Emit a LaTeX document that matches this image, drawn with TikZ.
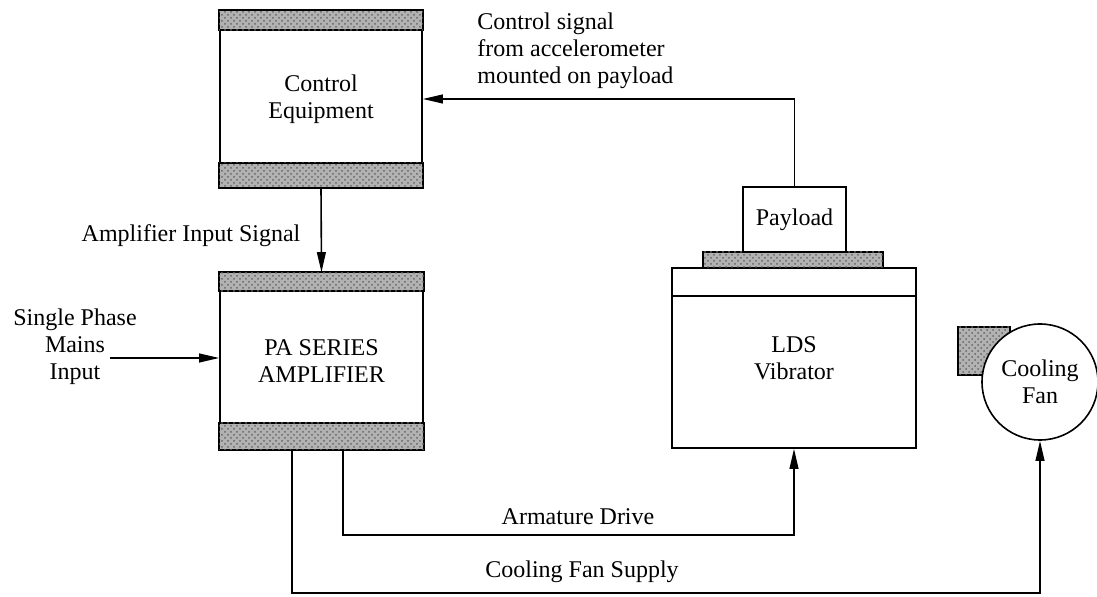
\documentclass[tikz,border=0pt]{standalone}
\usepackage{fontspec}
\setmainfont{Liberation Serif}
\usetikzlibrary{arrows.meta,patterns}

\begin{document}
\begin{tikzpicture}[x=0.5pt,y=-0.5pt,line width=0.8pt,
  font=\fontsize{12}{13.5}\selectfont,
  unit/.style={draw,align=center,inner sep=0pt},
  band/.style={draw,fill=black!30,postaction={pattern=crosshatch dots,pattern color=black!60}},
  sig/.style={-{Triangle[length=10pt,width=4.4pt]}}]
\useasboundingbox (0,0) rectangle (1097,597);
% control equipment
\node[unit,minimum width=101pt,minimum height=88pt] (ctrl) at (321,99) {Control\\Equipment};
\draw[band] (ctrl.north west) rectangle ([yshift=-10pt]ctrl.north east);
\draw[band] ([yshift=12.5pt]ctrl.south west) rectangle (ctrl.south east);
% amplifier
\node[unit,minimum width=101.5pt,minimum height=88pt] (amp) at (321.5,361) {PA SERIES\\AMPLIFIER};
\draw[band] (amp.north west) rectangle ([yshift=-9.5pt]amp.north east);
\draw[band] ([yshift=13.5pt]amp.south west) rectangle (amp.south east);
% vibrator and payload
\node[unit,minimum width=122pt,minimum height=90pt] (vib) at (794,358) {LDS\\Vibrator};
\draw ([yshift=-14.5pt]vib.north west) -- ([yshift=-14.5pt]vib.north east);
\draw[band] (703,252) rectangle (883,268);
\node[unit,minimum width=51.5pt,minimum height=32.5pt] (pay) at (794.5,219.5) {Payload};
% cooling fan
\draw[band] (958,327) rectangle (1010,375);
\node[unit,circle,fill=white,minimum size=58pt] (fan) at (1040,382) {Cooling\\Fan};
% labels
\node (sigtxt) at (191,236) {Amplifier Input Signal};
\node[align=left,anchor=west] (acctxt) at (470,51) {Control signal\\from accelerometer\\mounted on payload};
\node[align=center] (mains) at (75,347) {Single Phase\\Mains\\Input};
\node (armtxt) at (578,517) {Armature Drive};
\node (fantxt) at (582,572) {Cooling Fan Supply};
% connectors
\coordinate (mainsin) at (110,358);
\coordinate (fanout) at (292,449);
\coordinate (armout) at (343,449);
\draw[sig] (pay.north) |- (ctrl.east);
\draw[sig] (ctrl.south) -- (amp.north);
\draw[sig] (mainsin) -- (mainsin -| amp.west);
\draw[sig] (armout) -- ++(0,86) -| (vib.south);
\draw[sig] (fanout) -- ++(0,144) -| (fan.south);
\end{tikzpicture}
\end{document}
